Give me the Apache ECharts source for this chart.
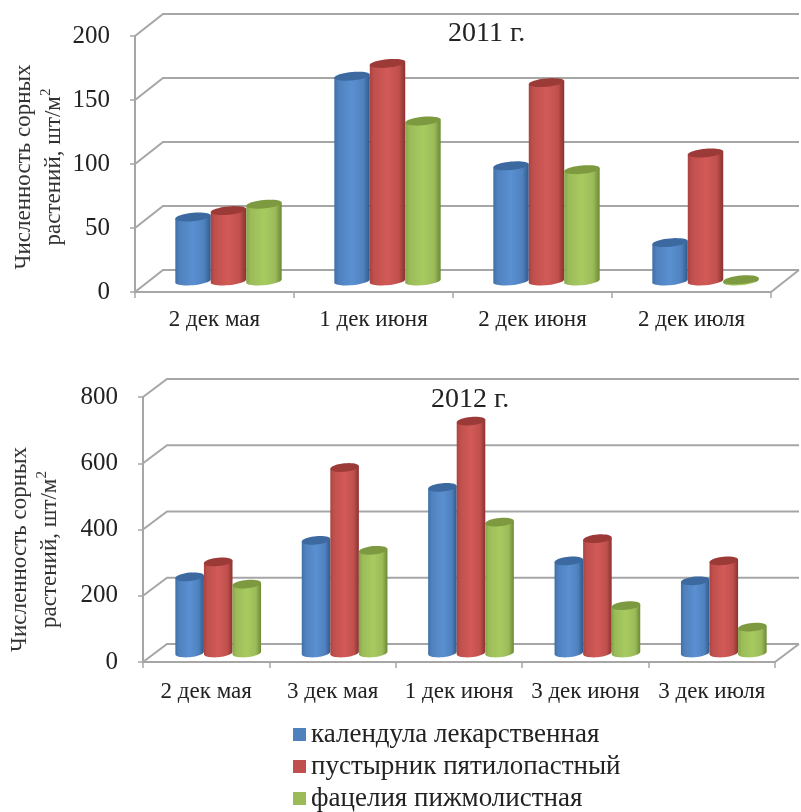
<!DOCTYPE html>
<html>
<head>
<meta charset="utf-8">
<style>html,body{margin:0;padding:0;background:#fff}#chart{width:801px;height:812px}</style>
<script src="https://cdn.jsdelivr.net/npm/echarts@6/dist/echarts.min.js"></script>
</head>
<body>
<div id="chart"></div>
<script>
// Weed counts per 10-day period, plants per square metre
const seriesNames = ['календула лекарственная', 'пустырник пятилопастный', 'фацелия пижмолистная'];

const categories2011 = ['2 дек мая', '1 дек июня', '2 дек июня', '2 дек июля'];
const calendula2011 = [50, 160, 90, 30];
const leonurus2011 = [55, 170, 155, 100];
const phacelia2011 = [60, 125, 87, 1];

const categories2012 = ['2 дек мая', '3 дек мая', '1 дек июня', '3 дек июня', '3 дек июля'];
const calendula2012 = [230, 340, 500, 278, 218];
const leonurus2012 = [275, 560, 700, 345, 278];
const phacelia2012 = [208, 310, 395, 143, 78];

const ticks2011 = [0, 50, 100, 150, 200];
const ticks2012 = [0, 200, 400, 600, 800];

const palettes = [
  { base: '#4f81bd', top: '#3c6aa0', edgeL: '#3f6fa8', light: '#5a90d2', edgeR: '#2f5a8c' },
  { base: '#c0504d', top: '#9c3a38', edgeL: '#a84341', light: '#d25a57', edgeR: '#8a3230' },
  { base: '#9bbb59', top: '#7d9a40', edgeL: '#86a548', light: '#a8cb60', edgeR: '#6c8a35' }
];
const serif = '"Liberation Serif", "Times New Roman", serif';
const gridLine = '#a6a6a6';

// One elliptical rim of a cylinder, sheared slightly for the oblique view
function rim(cx, cy, a, b, from, to, steps) {
  const pts = [];
  const shear = 0.09;
  for (let i = 0; i <= steps; i++) {
    const t = from + (to - from) * i / steps;
    pts.push([cx + a * Math.cos(t), cy + b * Math.sin(t) - shear * a * Math.cos(t)]);
  }
  return pts;
}

function cylinderRenderer(pal, slot, barShare, depth) {
  const fill = new echarts.graphic.LinearGradient(0, 0, 1, 0, [
    { offset: 0, color: pal.edgeL },
    { offset: 0.12, color: pal.base },
    { offset: 0.5, color: pal.light },
    { offset: 0.82, color: pal.base },
    { offset: 1, color: pal.edgeR }
  ]);
  return function (params, api) {
    const idx = api.value(0);
    const base = api.coord([idx, 0]);
    const head = api.coord([idx, api.value(1)]);
    const catW = api.size([1, 0])[0];
    const a = catW * barShare / 2;
    const cx = base[0] + depth[0] + slot * 2 * a;
    const yBase = base[1] + depth[1];
    const yTop = head[1] + depth[1];
    const b = 4.2;
    const topEdge = rim(cx, yTop, a, b, Math.PI, 0, 1);
    const bottom = rim(cx, yBase, a, b, 0, Math.PI, 24);
    return {
      type: 'group',
      children: [
        { type: 'polygon', shape: { points: topEdge.concat(bottom) }, style: { fill: fill } },
        { type: 'polygon', shape: { points: rim(cx, yTop, a, b, 0, Math.PI * 2, 40) }, style: { fill: pal.top } }
      ]
    };
  };
}

// Side wall, back wall and floor edge of the box
function wallRenderer(depth) {
  return function (params, api) {
    const c = params.coordSys;
    const y = api.coord([0, api.value(0)])[1];
    const x0 = c.x, x1 = c.x + c.width;
    const children = [{
      type: 'polyline',
      shape: { points: [[x0, y], [x0 + depth[0], y + depth[1]], [x1 + depth[0], y + depth[1]]] },
      style: { fill: 'none', stroke: gridLine, lineWidth: 2 }
    }];
    if (api.value(0) === 0) {
      children.push({
        type: 'line',
        shape: { x1: x1, y1: y, x2: x1 + depth[0], y2: y + depth[1] },
        style: { stroke: gridLine, lineWidth: 2 }
      });
    }
    return { type: 'group', children: children };
  };
}

function panelSeries(gridIndex, ticks, valueSets, barShare, depth) {
  const wall = {
    type: 'custom', xAxisIndex: gridIndex, yAxisIndex: gridIndex, silent: true, z: 1,
    renderItem: wallRenderer(depth),
    encode: { y: 0 },
    data: ticks.map(function (t) { return [t]; })
  };
  const bars = valueSets.map(function (values, s) {
    return {
      type: 'custom', name: seriesNames[s], xAxisIndex: gridIndex, yAxisIndex: gridIndex, z: 3 + s,
      itemStyle: { color: palettes[s].base },
      renderItem: cylinderRenderer(palettes[s], s - 1, barShare, [depth[0] / 2, depth[1] / 2]),
      encode: { x: 0, y: 1 },
      data: values.map(function (v, i) { return [i, v]; })
    };
  });
  return [wall].concat(bars);
}

function xAxisFor(gridIndex, cats, margin) {
  return {
    type: 'category', gridIndex: gridIndex, data: cats, boundaryGap: true,
    axisLine: { lineStyle: { color: gridLine, width: 2 } },
    axisTick: { show: true, alignWithLabel: false, length: 6, lineStyle: { color: gridLine, width: 1.5 } },
    axisLabel: { fontFamily: serif, fontSize: 23, color: '#222', margin: margin, interval: 0 }
  };
}
function yAxisFor(gridIndex, max, step, gap, shift) {
  return {
    type: 'value', gridIndex: gridIndex, min: 0, max: max, interval: step,
    name: 'Численность сорных\nрастений, шт/м{s|2}',
    nameLocation: 'middle', nameRotate: 90, nameGap: gap, nameMoveOverlap: false,
    nameTextStyle: {
      fontFamily: serif, fontSize: 23, color: '#333', lineHeight: 30,
      padding: [0, shift, 0, 0],
      rich: { s: { fontFamily: serif, fontSize: 15, color: '#333', verticalAlign: 'top', lineHeight: 30 } }
    },
    axisLine: { show: true, lineStyle: { color: gridLine, width: 2 } },
    axisTick: { show: true, length: 5, lineStyle: { color: gridLine, width: 1.5 } },
    axisLabel: { fontFamily: serif, fontSize: 25, color: '#222', margin: 25 },
    splitLine: { show: false }
  };
}

const chart = echarts.init(document.getElementById('chart'), null, { renderer: 'canvas' });
const yearStyle = { fontFamily: serif, fontSize: 28, fontWeight: 'normal', color: '#222' };
chart.setOption({
  animation: false,
  backgroundColor: '#fff',
  title: [
    { text: '2011 г.', left: 448, top: 20, padding: 0, textStyle: yearStyle },
    { text: '2012 г.', left: 431, top: 386, padding: 0, textStyle: yearStyle }
  ],
  legend: {
    orient: 'vertical', left: 293, top: 721, height: 120, padding: 0,
    itemWidth: 13, itemHeight: 13, itemGap: 5,
    icon: 'rect', data: seriesNames, selectedMode: false,
    textStyle: { fontFamily: serif, fontSize: 27, color: '#222' }
  },
  grid: [
    { left: 135, top: 36, width: 636, height: 256, outerBoundsMode: 'none' },
    { left: 143, top: 397, width: 632, height: 265, outerBoundsMode: 'none' }
  ],
  xAxis: [xAxisFor(0, categories2011, 16), xAxisFor(1, categories2012, 18)],
  yAxis: [yAxisFor(0, 200, 50, 66, 6), yAxisFor(1, 800, 200, 78, 40)],
  series: panelSeries(0, ticks2011, [calendula2011, leonurus2011, phacelia2011], 0.223, [28, -22])
    .concat(panelSeries(1, ticks2012, [calendula2012, leonurus2012, phacelia2012], 0.226, [24, -18]))
});
</script>
</body>
</html>
